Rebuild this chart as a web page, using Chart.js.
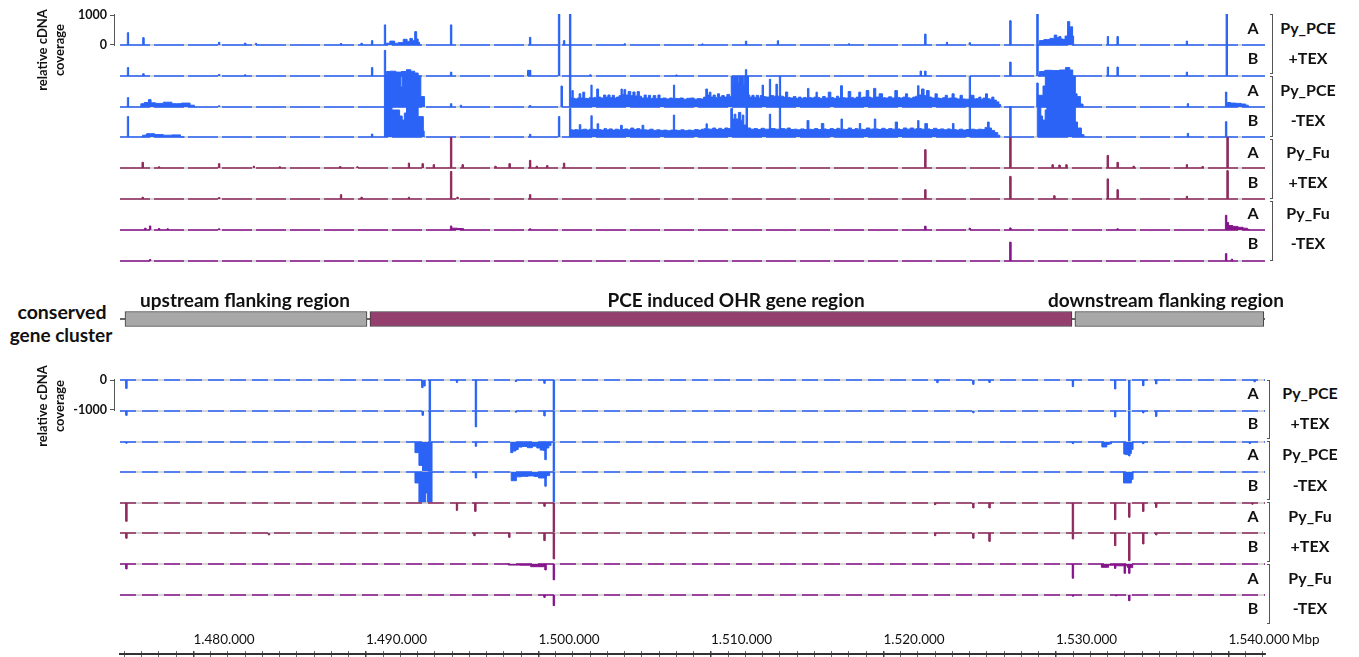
<!DOCTYPE html>
<html><head><meta charset="utf-8">
<script src="https://cdn.jsdelivr.net/npm/chart.js@4.4.1/dist/chart.umd.min.js"></script>
<style>
html,body{margin:0;padding:0;background:#fff;}
#page{position:relative;width:1359px;height:657px;overflow:hidden;font-family:Lato,'Open Sans',sans-serif;}
canvas{position:absolute;}
.t{position:absolute;white-space:nowrap;font-weight:bold;color:#111;transform:translate(-50%,-50%);line-height:1;}
.br{position:absolute;border-top:1px solid #555;border-bottom:1px solid #555;border-right:1px solid #555;width:3px;box-sizing:border-box;}
</style></head><body><div id="page"></div>
<script>
// ---------------- DATA (positions in kbp, coverage values) ----------------
const xMinKbp = 1475.74, xMaxKbp = 1542.12;
const axisTicksKbp = [1480, 1490, 1500, 1510, 1520, 1530, 1540];
const scaleTopTicks = [0, 1000];
const scaleBottomTicks = [0, -1000];
const trackLabels = ['A', 'B', 'A', 'B', 'A', 'B', 'A', 'B'];
const groupLabels = [['Py_PCE', '+TEX'], ['Py_PCE', '-TEX'], ['Py_Fu', '+TEX'], ['Py_Fu', '-TEX']];
const geneRegions = ['upstream flanking region', 'PCE induced OHR gene region', 'downstream flanking region'];
const geneStart = [1476.03, 1490.23, 1531.10];
const geneEnd = [1490.06, 1530.93, 1542.05];

// forward strand (upper panel) spikes [kbp, coverage]
const fwdPceTexA = [[1476.20,410],[1477.09,245],[1481.48,90],[1482.99,65],[1483.62,55],[1488.55,50],[1489.74,60],[1490.35,145],[1491.10,670],[1494.93,670],[1499.51,255],[1501.19,1200],[1501.48,145],[1501.83,1200],[1505.0,40],[1509.5,35],[1512.03,130],[1513.88,140],[1518.0,40],[1522.42,365],[1523.68,90],[1525.00,75],[1527.35,810],[1528.92,1200],[1533.01,280],[1533.57,280],[1537.59,130],[1539.90,1200]];
const fwdPceTexAProfile = [
  [[1491.15,0],[1491.2,60],[1491.57,130],[1491.75,60],[1492.0,80],[1492.32,190],[1492.45,120],[1492.64,220],[1492.75,150],[1492.90,445],[1492.98,200],[1493.07,90],[1493.15,0]],
  [[1529.0,0],[1529.1,150],[1529.5,180],[1529.80,220],[1530.0,330],[1530.1,250],[1530.23,280],[1530.35,200],[1530.46,190],[1530.6,300],[1530.75,780],[1530.85,600],[1530.93,610],[1531.0,300],[1531.05,0]]
];
const fwdPceTexB = [[1476.20,280],[1477.09,75],[1481.48,50],[1482.99,40],[1490.35,280],[1491.10,855],[1494.93,130],[1499.40,190],[1499.51,190],[1501.19,1200],[1501.83,1200],[1503.0,40],[1508.0,35],[1512.03,210],[1522.16,165],[1522.42,165],[1527.35,465],[1528.92,1200],[1533.01,300],[1533.57,300],[1537.59,130],[1539.90,1200]];
const fwdPceTexBProfile = [
  [[1491.15,0],[1491.2,150],[1491.57,160],[1491.9,130],[1492.2,150],[1492.49,210],[1492.7,160],[1492.95,100],[1493.1,0]],
  [[1529.0,0],[1529.1,150],[1529.6,190],[1530.0,180],[1530.4,200],[1530.7,280],[1530.9,200],[1531.05,0]]
];
const fwdPceNoTexA = [[1476.20,310],[1481.48,40],[1494.93,110],[1495.5,60],[1499.51,50],[1501.34,700],[1501.83,1200],[1513.0,730],[1513.42,925],[1513.8,760],[1514.0,1200],[1525.01,1200],[1528.92,800],[1537.65,110],[1539.86,500]];
const fwdPceNoTexAProfile = [
  [[1476.9,0],[1477.0,110],[1477.3,150],[1477.48,245],[1477.6,140],[1478.0,120],[1478.5,160],[1479.0,110],[1479.6,130],[1480.0,60],[1480.1,0]],
  [[1491.07,0],[1491.07,1200],[1492.0,1200],[1492.05,670],[1492.14,1200],[1493.18,1200],[1493.18,350],[1493.39,350],[1493.39,0]],
  [[1501.88,0],[1501.9,300],[1501.98,550],[1502.05,290],[1502.2,270],[1502.3,300],[1502.41,440],[1502.5,300],[1502.64,495],[1502.72,290],[1502.9,280],[1503.0,320],[1503.08,730],[1503.14,300],[1503.3,320],[1503.45,600],[1503.52,330],[1503.7,300],[1503.85,400],[1503.95,330],[1504.1,400],[1504.2,310],[1504.35,390],[1504.45,300],[1504.6,330],[1504.75,380],[1504.82,600],[1504.9,420],[1505.01,580],[1505.1,400],[1505.3,515],[1505.4,380],[1505.55,500],[1505.65,370],[1505.8,515],[1505.9,360],[1506.05,300],[1506.2,400],[1506.3,300],[1506.45,390],[1506.55,290],[1506.75,380],[1506.85,280],[1507.0,400],[1507.1,280],[1507.3,300],[1507.5,270],[1507.7,300],[1507.79,290],[1507.86,730],[1507.93,290],[1508.1,280],[1508.3,300],[1508.5,260],[1508.7,290],[1508.95,300],[1509.1,260],[1509.3,280],[1509.5,270],[1509.65,330],[1509.75,600],[1509.85,400],[1509.95,495],[1510.05,330],[1510.2,400],[1510.3,320],[1510.45,440],[1510.55,330],[1510.7,380],[1510.85,330],[1511.0,420],[1511.15,350],[1511.2,1200],[1511.3,1200],[1511.33,700],[1511.4,1200],[1511.55,1200],[1511.6,800],[1511.65,1200],[1511.85,1200],[1511.9,750],[1511.95,1200],[1512.15,1200],[1512.2,400],[1512.3,330],[1512.45,390],[1512.55,320],[1512.7,390],[1512.8,300],[1512.9,380],[1513.1,350],[1513.25,330],[1513.55,380],[1513.7,360],[1514.15,360],[1514.25,330],[1514.4,500],[1514.5,320],[1514.7,300],[1514.85,350],[1515.0,290],[1515.15,330],[1515.3,290],[1515.45,320],[1515.55,300],[1515.64,620],[1515.72,320],[1515.9,300],[1516.05,330],[1516.13,495],[1516.2,320],[1516.4,290],[1516.55,350],[1516.7,300],[1516.9,495],[1517.0,320],[1517.2,290],[1517.35,360],[1517.45,300],[1517.58,710],[1517.66,310],[1517.85,300],[1518.06,515],[1518.15,320],[1518.35,290],[1518.5,330],[1518.64,495],[1518.72,310],[1518.9,330],[1519.1,550],[1519.2,330],[1519.35,300],[1519.51,620],[1519.6,330],[1519.9,440],[1520.0,310],[1520.2,300],[1520.4,340],[1520.55,300],[1520.77,550],[1520.85,320],[1521.05,300],[1521.2,330],[1521.35,440],[1521.45,310],[1521.6,290],[1521.8,330],[1521.94,360],[1522.02,710],[1522.1,400],[1522.31,600],[1522.4,380],[1522.6,550],[1522.7,330],[1522.9,300],[1523.08,440],[1523.16,300],[1523.35,280],[1523.5,310],[1523.66,390],[1523.75,290],[1523.9,300],[1524.05,440],[1524.15,300],[1524.35,270],[1524.53,390],[1524.62,270],[1524.8,260],[1525.2,390],[1525.3,270],[1525.45,280],[1525.6,330],[1525.7,260],[1525.85,300],[1525.98,440],[1526.08,280],[1526.2,260],[1526.36,330],[1526.45,230],[1526.64,170],[1526.75,80],[1526.85,0]],
  [[1528.95,0],[1528.95,390],[1529.2,390],[1529.3,700],[1529.47,1200],[1531.1,1200],[1531.15,440],[1531.3,350],[1531.54,100],[1531.6,0]],
  [[1539.9,0],[1539.95,150],[1540.3,130],[1540.6,120],[1540.9,100],[1541.1,60],[1541.2,0]]
];
const fwdPceNoTexB = [[1476.20,680],[1477.3,100],[1490.35,100],[1499.51,90],[1501.19,680],[1501.83,955],[1512.07,1200],[1513.42,760],[1514.0,1200],[1525.01,1200],[1527.35,1200],[1537.65,120],[1539.86,510]];
const fwdPceNoTexBProfile = [
  [[1477.0,0],[1477.1,60],[1477.5,110],[1478.0,80],[1478.5,60],[1479.0,70],[1479.5,0]],
  [[1491.07,0],[1491.07,1200],[1491.5,1200],[1491.52,900],[1491.85,900],[1492.05,700],[1492.15,565],[1492.3,800],[1492.4,1200],[1493.0,1200],[1493.05,680],[1493.3,680],[1493.35,200],[1493.4,0]],
  [[1501.88,0],[1501.9,240],[1502.05,230],[1502.2,250],[1502.32,230],[1502.41,410],[1502.5,240],[1502.7,260],[1502.9,230],[1503.0,260],[1503.08,710],[1503.15,260],[1503.35,250],[1503.45,440],[1503.53,250],[1503.7,230],[1503.9,280],[1504.0,240],[1504.2,270],[1504.35,230],[1504.55,260],[1504.7,240],[1504.82,390],[1504.9,250],[1505.1,270],[1505.25,240],[1505.45,300],[1505.6,250],[1505.8,280],[1505.95,240],[1506.06,390],[1506.15,240],[1506.35,230],[1506.55,260],[1506.75,220],[1506.95,240],[1507.15,220],[1507.35,230],[1507.55,210],[1507.78,230],[1507.86,730],[1507.93,230],[1508.15,220],[1508.35,240],[1508.55,210],[1508.75,230],[1508.95,220],[1509.15,250],[1509.35,230],[1509.55,260],[1509.68,280],[1509.75,440],[1509.83,270],[1510.0,260],[1510.2,300],[1510.35,250],[1510.55,290],[1510.7,250],[1510.9,300],[1511.1,280],[1511.2,950],[1511.3,600],[1511.39,760],[1511.5,600],[1511.68,820],[1511.78,560],[1511.86,730],[1511.95,400],[1512.2,300],[1512.4,260],[1512.6,280],[1512.8,250],[1513.0,290],[1513.2,260],[1513.6,280],[1513.85,260],[1514.2,280],[1514.35,260],[1514.5,300],[1514.7,250],[1514.9,260],[1515.1,240],[1515.3,270],[1515.5,250],[1515.64,550],[1515.72,260],[1515.9,250],[1516.1,280],[1516.3,250],[1516.5,450],[1516.58,270],[1516.8,250],[1517.0,280],[1517.2,250],[1517.4,290],[1517.5,260],[1517.58,600],[1517.66,260],[1517.85,250],[1518.05,300],[1518.25,250],[1518.45,280],[1518.56,260],[1518.64,450],[1518.72,260],[1518.9,250],[1519.1,300],[1519.3,260],[1519.43,270],[1519.51,600],[1519.6,270],[1519.8,250],[1520.0,290],[1520.2,250],[1520.4,280],[1520.6,260],[1520.77,500],[1520.86,270],[1521.05,250],[1521.25,300],[1521.45,260],[1521.65,300],[1521.85,260],[1521.95,280],[1522.02,550],[1522.1,280],[1522.3,260],[1522.5,450],[1522.6,270],[1522.8,250],[1523.0,290],[1523.2,250],[1523.4,270],[1523.6,240],[1523.8,270],[1523.95,250],[1524.05,450],[1524.13,250],[1524.3,230],[1524.5,260],[1524.7,230],[1524.9,250],[1525.2,260],[1525.4,240],[1525.6,260],[1525.8,250],[1525.98,320],[1526.08,500],[1526.18,300],[1526.35,220],[1526.55,150],[1526.7,60],[1526.78,0]],
  [[1528.92,0],[1528.92,1200],[1529.1,1200],[1529.15,700],[1529.3,565],[1529.45,900],[1529.5,1200],[1531.1,1200],[1531.15,500],[1531.35,300],[1531.6,80],[1531.65,0]]
];
const fwdFuTexA = [[1477.05,190],[1478.0,40],[1481.48,145],[1483.5,60],[1485.0,40],[1488.5,50],[1489.5,40],[1492.49,165],[1493.28,145],[1493.93,110],[1494.93,1200],[1495.6,110],[1497.5,60],[1498.32,145],[1499.51,255],[1499.9,60],[1500.5,80],[1501.48,165],[1522.42,610],[1527.35,1200],[1529.8,110],[1530.2,100],[1530.6,110],[1533.00,420],[1533.57,190],[1534.5,60],[1537.59,110],[1538.5,50],[1539.94,1200]];
const fwdFuTexB = [[1477.05,60],[1481.48,50],[1488.55,145],[1489.74,60],[1492.49,60],[1494.93,920],[1495.3,60],[1499.51,145],[1522.42,310],[1527.35,755],[1529.9,110],[1533.00,670],[1533.57,310],[1537.59,90],[1539.94,945]];
const fwdFuNoTexA = [[1477.2,60],[1477.48,135],[1478.0,50],[1478.5,40],[1481.48,40],[1494.93,135],[1499.51,40],[1522.42,130],[1525.0,60],[1527.35,70],[1533.57,40],[1539.86,490]];
const fwdFuNoTexAProfile = [
  [[1494.95,0],[1495.0,60],[1495.6,50],[1495.7,0]],
  [[1539.9,0],[1539.92,250],[1540.1,150],[1540.4,120],[1540.7,90],[1541.0,60],[1541.2,20],[1541.25,0]]
];
const fwdFuNoTexB = [[1477.48,50],[1527.35,630],[1539.86,245],[1540.2,60]];

// reverse strand (lower panel) spikes [kbp, coverage]
const revPceTexA = [[1476.12,-280],[1493.28,-255],[1493.4,-200],[1493.71,-1200],[1495.28,-80],[1496.38,-1200],[1498.7,-50],[1500.36,-110],[1500.90,-1200],[1523.14,-90],[1525.22,-145],[1526.16,-80],[1530.99,-220],[1533.44,-300],[1534.26,-1200],[1535.07,-190],[1535.82,-130],[1541.53,-60]];
const revPceTexB = [[1476.12,-145],[1493.3,-145],[1493.71,-1200],[1496.38,-530],[1498.7,-40],[1500.36,-165],[1500.90,-1200],[1525.22,-60],[1533.44,-200],[1534.26,-1200],[1535.07,-65],[1535.82,-180]];
const revPceNoTexA = [[1476.12,-40],[1496.38,-145],[1500.42,-590],[1500.90,-1200],[1530.99,-55],[1534.26,-465],[1535.07,-55],[1541.25,-50]];
const revPceNoTexAProfile = [
  [[1492.84,0],[1492.84,-355],[1493.07,-355],[1493.07,-780],[1493.28,-780],[1493.28,-1200],[1493.83,-1200],[1493.83,0]],
  [[1498.39,0],[1498.39,-355],[1498.64,-300],[1498.75,-250],[1498.9,-170],[1499.2,-150],[1499.5,-190],[1499.8,-140],[1500.0,-200],[1500.2,-270],[1500.36,-280],[1500.5,-200],[1500.7,-120],[1500.75,0]],
  [[1532.65,0],[1532.67,-165],[1532.9,-165],[1533.0,-80],[1533.2,-60],[1533.25,0]],
  [[1533.92,0],[1533.94,-400],[1534.1,-420],[1534.3,-380],[1534.44,-250],[1534.5,0]]
];
const revPceNoTexB = [[1496.38,-200],[1500.42,-475],[1500.90,-1200]];
const revPceNoTexBProfile = [
  [[1492.84,0],[1492.84,-365],[1493.07,-365],[1493.07,-1200],[1493.45,-1200],[1493.47,-700],[1493.55,-700],[1493.57,-1200],[1493.83,-1200],[1493.83,0]],
  [[1498.39,0],[1498.45,-290],[1498.64,-290],[1498.8,-160],[1499.2,-145],[1499.6,-130],[1499.9,-150],[1500.1,-200],[1500.3,-200],[1500.6,-120],[1500.7,0]],
  [[1533.9,0],[1533.94,-365],[1534.3,-365],[1534.44,-250],[1534.5,0]]
];
const revFuTexA = [[1476.12,-610],[1495.28,-245],[1496.35,-280],[1500.36,-110],[1500.90,-1200],[1523.0,-55],[1525.22,-165],[1526.16,-165],[1530.99,-1200],[1533.44,-555],[1534.26,-475],[1535.07,-280],[1535.82,-145],[1541.4,-40]];
const revFuTexB = [[1476.12,-175],[1484.38,-65],[1496.3,-90],[1498.32,-145],[1500.36,-255],[1500.90,-865],[1523.0,-90],[1525.22,-175],[1526.16,-280],[1530.99,-200],[1533.44,-420],[1534.26,-920],[1535.07,-365],[1535.82,-65]];
const revFuNoTexA = [[1476.12,-165],[1500.42,-200],[1500.90,-530],[1530.99,-475],[1533.44,-145],[1534.0,-310],[1534.26,-310]];
const revFuNoTexAProfile = [
  [[1498.2,0],[1498.3,-35],[1499.5,-40],[1499.6,-90],[1500.3,-90],[1500.4,0]],
  [[1532.6,0],[1532.67,-110],[1533.0,-110],[1533.1,-40],[1533.9,-60],[1534.4,-120],[1534.5,0]]
];
const revFuNoTexB = [[1500.36,-80],[1500.90,-355],[1531.0,-40],[1533.5,-30],[1534.26,-190]];

// ---------------- LAYOUT / STYLE ----------------
const BLUE = '#2a63f5', MAROON = '#8e2a5c', PURPLE = '#86158c';
const PLOT_L = 120, PLOT_W = 1145;
const SPIKE_HALF = 0.035;
Chart.defaults.font.family = "Lato, 'Open Sans', sans-serif";
const page = document.getElementById('page');

function addCanvas(left, top, w, h) {
  const c = document.createElement('canvas');
  c.width = w; c.height = h;
  c.style.left = left + 'px'; c.style.top = top + 'px';
  c.style.width = w + 'px'; c.style.height = h + 'px';
  page.appendChild(c);
  return c;
}
function addText(html, x, y, size, weight, align) {
  const d = document.createElement('div');
  d.className = 't';
  d.innerHTML = html;
  d.style.left = x + 'px'; d.style.top = y + 'px';
  d.style.fontSize = size + 'px';
  if (weight) d.style.fontWeight = weight;
  if (align === 'left') d.style.transform = 'translate(0,-50%)';
  page.appendChild(d);
  return d;
}
function addBracket(x, y1, y2) {
  const d = document.createElement('div');
  d.className = 'br';
  d.style.left = x + 'px'; d.style.top = y1 + 'px'; d.style.height = (y2 - y1) + 'px';
  page.appendChild(d);
}
function spikeSeries(spikes) {
  const pts = [];
  spikes.slice().sort((a, b) => a[0] - b[0]).forEach(([x, v]) => {
    pts.push({x: x - SPIKE_HALF, y: 0}, {x: x - SPIKE_HALF, y: v}, {x: x + SPIKE_HALF, y: v}, {x: x + SPIKE_HALF, y: 0});
  });
  return pts;
}
function profileSeries(profiles) {
  const pts = [];
  profiles.slice().sort((a, b) => a[0][0] - b[0][0]).forEach(p => p.forEach(([x, y]) => pts.push({x, y})));
  return pts;
}
function baseOpts(yMin, yMax) {
  return {
    responsive: false, maintainAspectRatio: false, animation: false, events: [],
    layout: {padding: 0, autoPadding: false},
    plugins: {legend: {display: false}, tooltip: {enabled: false}},
    elements: {point: {radius: 0}, line: {tension: 0}},
    scales: {
      x: {type: 'linear', min: xMinKbp, max: xMaxKbp, display: false},
      y: {type: 'linear', min: yMin, max: yMax, display: false}
    }
  };
}
const hideFlat = {borderColor: ctx => (ctx.p0.parsed.y === 0 && ctx.p1.parsed.y === 0) ? 'rgba(0,0,0,0)' : undefined};

function trackChart(baseline, spikes, profiles, color, inverted) {
  const top = inverted ? baseline - 1 : baseline - 31;
  const c = addCanvas(PLOT_L, top, PLOT_W, 32);
  const yMin = inverted ? -1033.3 : -33.3, yMax = inverted ? 33.3 : 1033.3;
  const common = {fill: 'origin', backgroundColor: color, borderColor: color, borderWidth: 1, pointRadius: 0, segment: hideFlat};
  const ds = [Object.assign({data: spikeSeries(spikes)}, common)];
  if (profiles && profiles.length) ds.push(Object.assign({data: profileSeries(profiles), stepped: 'middle'}, common));
  ds.push({data: [{x: xMinKbp, y: 0}, {x: xMaxKbp, y: 0}], borderColor: color, borderWidth: 1.5, borderDash: inverted ? [16, 6] : [30, 4], fill: false, pointRadius: 0});
  ds.push({data: [{x: xMinKbp, y: 0}, {x: xMaxKbp, y: 0}], borderColor: '#c9c9c9', borderWidth: 1.5, fill: false, pointRadius: 0});
  new Chart(c, {type: 'line', data: {datasets: ds}, options: baseOpts(yMin, yMax)});
}

function scaleBar(baseline, inverted, ticks) {
  const top = (inverted ? baseline - 1 : baseline - 31) - 10;
  const c = addCanvas(50, top, 70, 52);
  const o = baseOpts(inverted ? -1033.3 : -33.3, inverted ? 33.3 : 1033.3);
  o.layout.padding = {top: 10, bottom: 10, left: 0, right: 0};
  o.scales.x = {type: 'linear', min: 0, max: 1, display: false};
  o.scales.y = {
    type: 'linear', min: o.scales.y.min, max: o.scales.y.max, position: 'left', display: true,
    afterFit: s => { s.width = 64; },
    afterBuildTicks: s => { s.ticks = ticks.map(v => ({value: v})); },
    ticks: {font: {size: 12.5, weight: 'bold'}, color: '#111', padding: 3, callback: v => String(v)},
    grid: {drawOnChartArea: false, drawTicks: true, tickLength: 4, color: '#555'},
    border: {display: true, color: '#555', width: 1}
  };
  new Chart(c, {type: 'line', data: {datasets: []}, options: o});
}

// ---------------- UPPER PANEL ----------------
const topBase = [45, 76, 107, 137, 168, 199, 230, 261];
const topTracks = [
  [fwdPceTexA, fwdPceTexAProfile, BLUE], [fwdPceTexB, fwdPceTexBProfile, BLUE],
  [fwdPceNoTexA, fwdPceNoTexAProfile, BLUE], [fwdPceNoTexB, fwdPceNoTexBProfile, BLUE],
  [fwdFuTexA, [], MAROON], [fwdFuTexB, [], MAROON],
  [fwdFuNoTexA, fwdFuNoTexAProfile, PURPLE], [fwdFuNoTexB, [], PURPLE]
];
topTracks.forEach((t, i) => trackChart(topBase[i], t[0], t[1], t[2], false));
scaleBar(topBase[0], false, scaleTopTicks);

// ---------------- LOWER PANEL ----------------
const botBase = [380, 411, 442, 472, 503, 533, 564, 595];
const botTracks = [
  [revPceTexA, [], BLUE], [revPceTexB, [], BLUE],
  [revPceNoTexA, revPceNoTexAProfile, BLUE], [revPceNoTexB, revPceNoTexBProfile, BLUE],
  [revFuTexA, [], MAROON], [revFuTexB, [], MAROON],
  [revFuNoTexA, revFuNoTexAProfile, PURPLE], [revFuNoTexB, [], PURPLE]
];
botTracks.forEach((t, i) => trackChart(botBase[i], t[0], t[1], t[2], true));
scaleBar(botBase[0], true, scaleBottomTicks);

// ---------------- GENE CLUSTER ----------------
(function () {
  const c = addCanvas(PLOT_L, 305, PLOT_W, 28);
  const fills = ['#a8a8a8', '#953f6e', '#a8a8a8'];
  const ds = geneRegions.map((name, i) => ({
    label: name, data: [[geneStart[i], geneEnd[i]]], backgroundColor: fills[i],
    borderColor: '#3c3c3c', borderWidth: 1, borderSkipped: false, barThickness: 15, grouped: false
  }));
  ds.push({label: 'axis', data: [[xMinKbp, xMaxKbp]], backgroundColor: '#333', borderWidth: 0, barThickness: 1, grouped: false});
  const o = baseOpts(0, 1);
  o.indexAxis = 'y';
  o.scales = {x: {type: 'linear', min: xMinKbp, max: xMaxKbp, display: false}, y: {type: 'category', display: false}};
  new Chart(c, {type: 'bar', data: {labels: ['conserved gene cluster'], datasets: ds}, options: o});
})();
addText('upstream flanking region', 245, 299, 19);
addText('PCE induced OHR gene region', 736, 299, 19);
addText('downstream flanking region', 1166, 299, 19);
addText('conserved', 62, 312, 19.5);
addText('gene cluster', 61, 334, 19);

// ---------------- X AXIS ----------------
(function () {
  const c = addCanvas(0, 625, 1359, 32);
  const o = baseOpts(0, 1);
  o.layout.padding = {left: PLOT_L, right: 1359 - PLOT_L - PLOT_W, top: 0, bottom: 0};
  const fmt = v => String(Math.round(v * 1000)).replace(/\B(?=(\d{3})+(?!\d))/g, '.');
  o.scales.x = {
    type: 'linear', position: 'top', min: xMinKbp, max: xMaxKbp, display: true,
    afterFit: s => { s.paddingLeft = 0; s.paddingRight = 0; s.height = 29; },
    ticks: {stepSize: 1, maxTicksLimit: 200, includeBounds: false, autoSkip: false, maxRotation: 0, minRotation: 0,
      align: 'start', padding: 3, color: '#111', font: {size: 13.5},
      callback: v => axisTicksKbp.includes(Math.round(v)) && Math.abs(v - Math.round(v)) < 1e-6 ? fmt(v) : ''},
    grid: {drawOnChartArea: true, drawTicks: true, tickLength: 3,
      color: '#444', tickColor: '#444',
      lineWidth: ctx => (ctx.tick && axisTicksKbp.includes(Math.round(ctx.tick.value))) ? 1.5 : 0.8,
      tickWidth: ctx => (ctx.tick && axisTicksKbp.includes(Math.round(ctx.tick.value))) ? 1.5 : 0.8},
    border: {display: true, color: '#333', width: 2}
  };
  new Chart(c, {type: 'line', data: {datasets: []}, options: o});
})();
addText('Mbp', 1292, 640, 13.5, 'normal', 'left');

// ---------------- LABELS ----------------
const topLabY = [28, 58, 90, 120, 152, 182, 213, 243];
const botLabY = [393, 423, 454, 485, 516, 546, 578, 608];
trackLabels.forEach((l, i) => { addText(l, 1253, topLabY[i], 16); addText(l, 1253, botLabY[i], 16); });
groupLabels.forEach((g, i) => {
  addText(g[0], 1308, topLabY[2 * i], 16); addText(g[1], 1308, topLabY[2 * i + 1], 16);
  addText(g[0], 1310, botLabY[2 * i], 16); addText(g[1], 1310, botLabY[2 * i + 1], 16);
});
[[14, 74], [76, 137], [139, 199], [201, 261]].forEach(b => addBracket(1270, b[0], b[1]));
[[380, 439], [441, 500], [502, 562], [564, 624]].forEach(b => addBracket(1267, b[0], b[1]));
const yl1 = addText('relative cDNA<br>coverage', 51, 50, 13);
const yl2 = addText('relative cDNA<br>coverage', 51, 406, 13);
[yl1, yl2].forEach(d => { d.style.transform = 'translate(-50%,-50%) rotate(-90deg)'; d.style.textAlign = 'center'; d.style.lineHeight = '17px'; });
</script></body></html>
